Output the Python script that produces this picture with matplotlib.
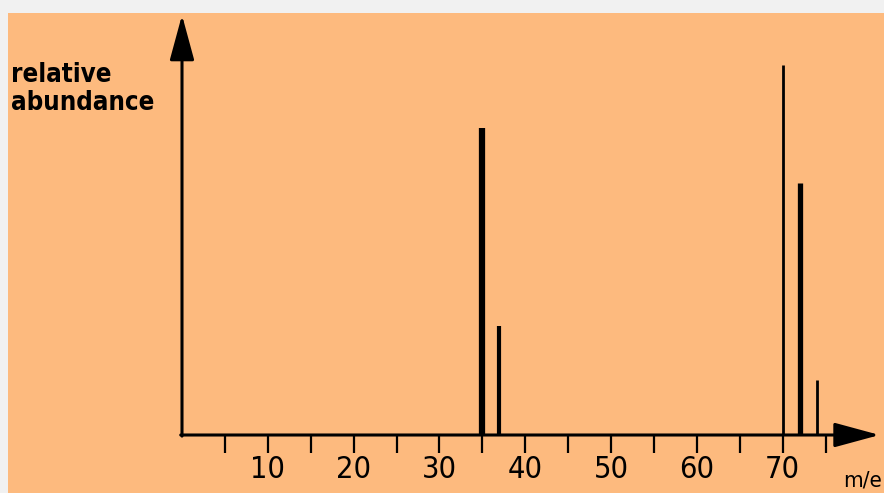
import matplotlib
matplotlib.use("Agg")
import matplotlib.pyplot as plt
from matplotlib.patches import Rectangle

# Data: m/z values and relative abundances (tallest peak = 100)
mz = [35, 37, 70, 72, 74]
abundance = [83, 29.5, 100, 68, 15]
peak_widths = [4.5, 3.0, 2.0, 3.8, 2.0]
tick_positions = list(range(5, 80, 5))
tick_labels = ["10", "20", "30", "40", "50", "60", "70"]
label_positions = [10, 20, 30, 40, 50, 60, 70]

W, H = 884, 493
fig = plt.figure(figsize=(W / 100, H / 100), dpi=100)
fig.patch.set_facecolor("#f1f1f1")
ax = fig.add_axes([0, 0, 1, 1])
ax.set_axis_off()

# pixel mapping: x=0 at px 182, 8.58 px per unit; baseline 58 px from bottom, 3.70 px per unit
x0px, xs = 182, 8.58
y0px, ys = 58, 3.70
ax.set_xlim((0 - x0px) / xs, (W - x0px) / xs)
ax.set_ylim((0 - y0px) / ys, (H - y0px) / ys)

# orange paper background (leaving a light band at top and left)
ax.add_patch(Rectangle((8 / W, 0), 1 - 8 / W, (H - 13) / H, transform=ax.transAxes,
                       facecolor="#fdba7e", edgecolor="none", zorder=0))

font = dict(family="DejaVu Sans", stretch="condensed", color="black")

# axes with arrows
arrow = dict(arrowstyle="-|>,head_length=1.4,head_width=0.38",
             lw=2.2, color="black", mutation_scale=20, shrinkA=0, shrinkB=0)
ax.annotate("", xy=(0, 113.5), xytext=(0, -0.3), arrowprops=arrow, zorder=3)
ax.annotate("", xy=(81.3, 0), xytext=(-0.15, 0), arrowprops=arrow, zorder=3)

# tick marks
ax.vlines(tick_positions, -4.8, 0, colors="black", lw=1.6, zorder=3)

# tick labels
for p, t in zip(label_positions, tick_labels):
    ax.text(p, -5.4, t, ha="center", va="top", fontsize=22, **font)

ax.text(1 - 2 / W, 3 / H, "m/e", transform=ax.transAxes, ha="right", va="bottom",
        fontsize=16, **font)

# peaks
for m, a, w in zip(mz, abundance, peak_widths):
    ax.vlines(m, 0, a, colors="black", lw=w, zorder=4)

# y-axis label
ax.text(11 / W, 1 - 62 / H, "relative\nabundance", transform=ax.transAxes,
        ha="left", va="top", fontsize=18.5, weight="bold", linespacing=1.1, **font)

fig.savefig("out.png", dpi=100, facecolor=fig.get_facecolor())
